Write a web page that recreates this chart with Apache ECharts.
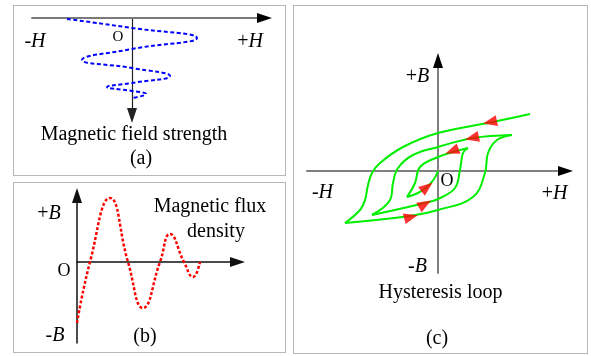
<!DOCTYPE html>
<html><head><meta charset="utf-8">
<script src="https://cdn.jsdelivr.net/npm/echarts@6/dist/echarts.min.js"></script>
<style>html,body{margin:0;padding:0;background:#fff}#c{width:591px;height:356px}</style>
</head><body><div id="c"></div>
<script>
// ---- Panel (a): magnetic field strength H (horizontal) vs time (downwards)
const fieldH = [-65, 0, 65, 0, -50, 0, 38, 0, -25, 0, 14, 0];
const fieldT = [-1, -10, -20, -31, -42, -50, -58, -65, -69, -73, -76, -80];
// ---- Panel (b): magnetic flux density B vs time
const fluxT = [0, 13, 33, 51, 66, 83, 93, 107, 116, 123];
const fluxB = [-61, 0, 64, 0, -46, 0, 28, 0, -15, 0];
// ---- Panel (c): hysteresis loop branches [H, B]
const outerDown  = [[92,57],[55,49],[0,38],[-35,24],[-58,8],[-66,-2],[-70,-14],[-73,-29],[-78,-39],[-93,-52]];
const outerUp    = [[-93,-52],[-28,-45],[0,-39],[35,-26],[47,-2],[50,18],[59,31],[74,36]];
const middleDown = [[74,36],[35,33],[0,24],[-25,16],[-40,3],[-45,-12],[-48,-29],[-66,-44]];
const middleUp   = [[-66,-44],[-13,-32],[0,-28],[17,-17],[22,1],[25,18],[30,23]];
const innerDown  = [[30,23],[15,19],[0,14],[-18,4],[-23,-12],[-31,-26]];
const innerUp    = [[-31,-26],[-20,-22],[-11,-16],[-4,-8],[0,0]];
// direction arrows on the loop: [H, B, direction in degrees]
const arrows = [[52,49,192],[34,33,193],[14,20,200],[-11,-16,38],[-13,-33,30],[-27,-46,15]];

const serif = '"Liberation Serif","Times New Roman",serif';
const arrowSym = 'path://M5,0L10,15L0,15Z';
const noAx = {type:'value', axisTick:{show:false}, axisLabel:{show:false}, splitLine:{show:false}};

function rich(size){
  return {i:{fontStyle:'italic', fontFamily:serif, fontSize:size, fill:'#000'},
          n:{fontFamily:serif, fontSize:size, fill:'#000'}};
}
function label(x, y, text, size){
  return {type:'text', x:x, y:y, z:10, silent:true,
    style:{text:text, fill:'#000', font:size+'px '+serif, align:'center', verticalAlign:'middle', rich:rich(size)}};
}
function frame(x, y, w, h){
  return {type:'rect', silent:true, z:-1, shape:{x:x, y:y, width:w, height:h},
    style:{fill:'none', stroke:'#6e6e6e', lineWidth:1, lineDash:[1,1]}};
}
const branch = d => ({type:'line', xAxisIndex:3, yAxisIndex:3, data:d, smooth:0.4, showSymbol:false,
  clip:false, lineStyle:{color:'#00ee00', width:2}, z:3});

const chart = echarts.init(document.getElementById('c'), null, {renderer:'canvas'});
chart.setOption({
  animation:false,
  backgroundColor:'#fff',
  grid:[
    {left:32, top:18, width:232.5, height:97.5, outerBoundsMode:'none'},
    {left:32, top:18, width:232.5, height:97.5, outerBoundsMode:'none'},
    {left:77, top:195.5, width:160.5, height:147.5, outerBoundsMode:'none'},
    {left:307, top:60.5, width:258.5, height:212.5, outerBoundsMode:'none'},
    {left:307, top:60.5, width:258.5, height:212.5, outerBoundsMode:'none'}
  ],
  xAxis:[
    Object.assign({}, noAx, {gridIndex:0, min:-100, max:132.5, position:'top',
      axisLine:{onZero:false, lineStyle:{color:'#7a7a7a', width:2}}}),
    Object.assign({}, noAx, {gridIndex:1, min:-100, max:132.5, position:'top',
      axisLine:{onZero:false, lineStyle:{color:'#000', width:0}, symbol:['none', arrowSym], symbolSize:[10,15]}}),
    Object.assign({}, noAx, {gridIndex:2, min:0, max:160.5,
      axisLine:{onZero:true, lineStyle:{color:'#111', width:1.5}, symbol:['none', arrowSym], symbolSize:[10,15]}}),
    Object.assign({}, noAx, {gridIndex:3, min:-131, max:127.5,
      axisLine:{onZero:true, lineStyle:{color:'#808080', width:2}}}),
    Object.assign({}, noAx, {gridIndex:4, min:-131, max:127.5,
      axisLine:{onZero:true, lineStyle:{color:'#000', width:0}, symbol:['none', arrowSym], symbolSize:[10,15]}})
  ],
  yAxis:[
    Object.assign({}, noAx, {gridIndex:0, min:-97.5, max:0,
      axisLine:{onZero:true, lineStyle:{color:'#222', width:1.2}, symbol:[arrowSym, 'none'], symbolSize:[10,15]}}),
    Object.assign({}, noAx, {gridIndex:1, min:-97.5, max:0, axisLine:{show:false}}),
    Object.assign({}, noAx, {gridIndex:2, min:-81, max:66.5,
      axisLine:{onZero:true, lineStyle:{color:'#111', width:1.5}, symbol:['none', arrowSym], symbolSize:[10,15]}}),
    Object.assign({}, noAx, {gridIndex:3, min:-102, max:110.5,
      axisLine:{onZero:true, lineStyle:{color:'#808080', width:2}}}),
    Object.assign({}, noAx, {gridIndex:4, min:-102, max:110.5,
      axisLine:{onZero:true, lineStyle:{color:'#000', width:0}, symbol:['none', arrowSym], symbolSize:[10,15]}})
  ],
  series:[
    {type:'line', xAxisIndex:0, yAxisIndex:0, data:fieldH.map((h,i)=>[h, fieldT[i]]), smooth:0.5,
      showSymbol:false, clip:false, lineStyle:{color:'#0000ff', width:2, type:[4,2.5]}, z:3},
    {type:'line', xAxisIndex:2, yAxisIndex:2, data:fluxT.map((t,i)=>[t, fluxB[i]]), smooth:0.5,
      showSymbol:false, clip:false, lineStyle:{color:'#ff0000', width:2.5, type:[3,2]}, z:3},
    branch(outerDown), branch(outerUp), branch(middleDown), branch(middleUp), branch(innerDown), branch(innerUp),
    {type:'scatter', xAxisIndex:3, yAxisIndex:3, symbol:'triangle', symbolSize:[11,14], clip:false, z:5,
      itemStyle:{color:'#ff0000'},
      data:arrows.map(a=>({value:[a[0], a[1]], symbolRotate:a[2]-90}))}
  ],
  graphic:[
    frame(13.5, 5.5, 272, 170),
    frame(13.5, 182.5, 272, 170),
    frame(293.5, 5.5, 294, 348),
    label(35, 42, '-{i|H}', 20),
    label(250, 42, '+{i|H}', 20),
    label(118, 37, 'O', 15),
    label(134, 134.5, 'Magnetic field strength', 20),
    label(141, 159, '(a)', 20),
    label(49, 213.5, '+{i|B}', 20),
    label(55, 335.5, '-{i|B}', 20),
    label(64, 271.5, 'O', 18),
    label(210, 207, 'Magnetic flux', 20),
    label(216, 231.5, 'density', 20),
    label(145, 337, '(b)', 20),
    label(417.5, 76.5, '+{i|B}', 20),
    label(417.5, 267, '-{i|B}', 20),
    label(322.5, 193, '-{i|H}', 20),
    label(554.5, 193.5, '+{i|H}', 20),
    label(447, 181, 'O', 18),
    label(440.5, 293, 'Hysteresis loop', 20),
    label(437, 339, '(c)', 20)
  ]
});
</script></body></html>
